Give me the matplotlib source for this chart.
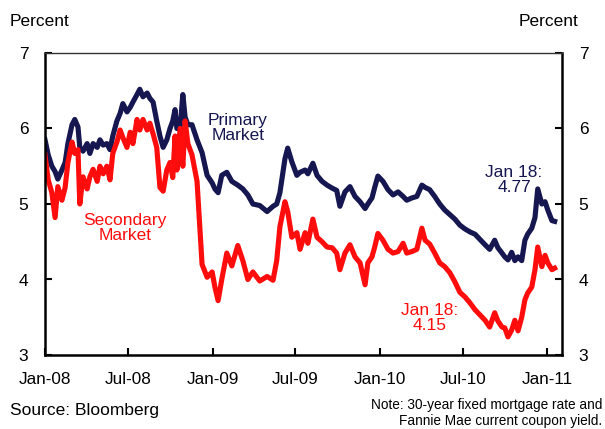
import matplotlib
matplotlib.use("Agg")
import matplotlib.pyplot as plt
import pandas as pd

plt.rcParams['font.family'] = ['Liberation Sans', 'DejaVu Sans']

# Day offsets from 2008-01-01 of each sampled observation
days_since_2008 = [0, 7, 15, 22, 28, 37, 44, 50, 59, 65, 72, 76, 83, 92, 98, 105, 114, 120, 127, 135,
                   142, 148, 157, 164, 170, 179, 186, 192, 201, 207, 214, 223, 229, 236, 244, 251, 258, 266, 273, 279,
                   284, 288, 295, 301, 306, 312, 321, 332, 343, 354, 365, 371, 378, 386, 397, 408, 421, 432, 443, 454,
                   469, 485, 498, 506, 513, 524, 530, 539, 550, 557, 568, 574, 585, 594, 605, 616, 627, 637, 644, 655,
                   666, 677, 688, 699, 705, 714, 720, 727, 738, 749, 760, 771, 782, 790, 801, 812, 823, 830, 840, 851,
                   862, 873, 884, 895, 906, 917, 928, 939, 950, 961, 971, 982, 989, 998, 1004, 1011, 1019, 1026, 1033, 1041,
                   1048, 1054, 1063, 1070, 1076, 1085, 1092, 1098, 1107, 1113]

primary_market = [5.85, 5.65, 5.50, 5.43, 5.33, 5.45, 5.55, 5.80, 6.05, 6.12, 6.02, 5.75, 5.70, 5.80, 5.67, 5.80, 5.75, 5.85, 5.78, 5.80,
                  5.72, 5.90, 6.10, 6.20, 6.33, 6.22, 6.28, 6.35, 6.45, 6.52, 6.42, 6.47, 6.40, 6.35, 6.10, 5.90, 5.75, 5.85, 6.00, 6.10,
                  6.25, 6.00, 6.00, 6.45, 6.15, 6.05, 6.05, 5.85, 5.68, 5.38, 5.28, 5.20, 5.15, 5.38, 5.42, 5.30, 5.25, 5.20, 5.12, 5.00,
                  4.98, 4.90, 4.97, 5.00, 5.15, 5.60, 5.74, 5.56, 5.38, 5.42, 5.45, 5.40, 5.54, 5.38, 5.30, 5.25, 5.21, 5.18, 4.97, 5.16,
                  5.23, 5.10, 5.03, 4.94, 5.00, 5.08, 5.22, 5.37, 5.30, 5.19, 5.12, 5.16, 5.10, 5.05, 5.08, 5.10, 5.25, 5.22, 5.19, 5.10,
                  5.00, 4.92, 4.86, 4.80, 4.72, 4.67, 4.63, 4.60, 4.53, 4.46, 4.40, 4.52, 4.42, 4.35, 4.30, 4.26, 4.36, 4.25, 4.30, 4.25,
                  4.52, 4.60, 4.68, 4.82, 5.20, 5.00, 5.03, 4.92, 4.78, 4.77]

secondary_market = [5.65, 5.32, 5.15, 4.82, 5.23, 5.05, 5.22, 5.55, 5.82, 5.67, 5.72, 5.00, 5.36, 5.20, 5.36, 5.46, 5.30, 5.50, 5.40, 5.50,
                    5.32, 5.67, 5.82, 5.98, 5.88, 5.75, 5.95, 5.80, 6.12, 5.98, 6.12, 5.98, 6.07, 5.93, 5.75, 5.22, 5.17, 5.45, 5.55, 5.35,
                    5.90, 5.45, 6.00, 5.50, 6.10, 5.80, 5.65, 5.30, 4.20, 4.03, 4.10, 3.90, 3.72, 4.00, 4.35, 4.18, 4.45, 4.25, 4.00, 4.10,
                    3.98, 4.04, 3.99, 4.25, 4.70, 5.03, 4.90, 4.56, 4.62, 4.40, 4.62, 4.48, 4.80, 4.56, 4.50, 4.43, 4.42, 4.35, 4.13, 4.35,
                    4.46, 4.30, 4.22, 3.93, 4.22, 4.30, 4.43, 4.61, 4.52, 4.40, 4.35, 4.37, 4.48, 4.35, 4.37, 4.40, 4.68, 4.52, 4.47, 4.35,
                    4.22, 4.17, 4.09, 3.97, 3.83, 3.77, 3.69, 3.60, 3.53, 3.46, 3.37, 3.56, 3.45, 3.37, 3.36, 3.24, 3.33, 3.46, 3.32, 3.50,
                    3.73, 3.82, 3.90, 4.13, 4.43, 4.17, 4.32, 4.22, 4.13, 4.15]

x_tick_dates = ['2008-01-01', '2008-07-01', '2009-01-01', '2009-07-01', '2010-01-01', '2010-07-01', '2011-01-01']
x_tick_labels = ['Jan-08', 'Jul-08', 'Jan-09', 'Jul-09', 'Jan-10', 'Jul-10', 'Jan-11']
y_ticks = [3, 4, 5, 6, 7]

dates = pd.Timestamp('2008-01-01') + pd.to_timedelta(days_since_2008, unit='D')

NAVY = '#161650'
RED = '#ff0d0d'

W, H = 605, 429
fig = plt.figure(figsize=(W / 100, H / 100), dpi=100)
ax = fig.add_axes([45 / W, 1 - 355 / H, (562 - 45) / W, (355 - 53) / H])

ax.plot(dates, primary_market, color=NAVY, lw=3.7, solid_joinstyle='round')
ax.plot(dates, secondary_market, color=RED, lw=3.7, solid_joinstyle='round')

ax.set_xlim(pd.Timestamp('2008-01-01'), pd.Timestamp('2011-02-03'))
ax.set_ylim(3, 7)
ax.set_xticks(pd.to_datetime(x_tick_dates))
ax.set_xticklabels(x_tick_labels)
ax.set_yticks(y_ticks)

ax.tick_params(axis='x', direction='in', length=5, width=1.5, pad=12, labelsize=12.3, colors='black')
ax.tick_params(axis='y', direction='in', length=5, width=1.5, pad=12, labelsize=12.5,
               left=True, right=True, labelleft=True, labelright=True)
for side in ['left', 'bottom', 'right']:
    ax.spines[side].set_linewidth(1.8)
ax.spines['top'].set_linewidth(1.0)
ax.spines['top'].set_color('#333333')

def ftxt(x, y, s, **kw):
    fig.text(x / W, 1 - y / H, s, **kw)

ftxt(10, 22, 'Percent', fontsize=12.5, va='center', ha='left')
ftxt(578, 22, 'Percent', fontsize=12.5, va='center', ha='right')

ftxt(238, 128, 'Primary\nMarket', fontsize=12.5, color=NAVY, ha='center', va='center', linespacing=1.05)
ftxt(125, 228, 'Secondary\nMarket', fontsize=12.5, color=RED, ha='center', va='center', linespacing=1.05)
ftxt(514, 180, 'Jan 18:\n4.77', fontsize=12.5, color=NAVY, ha='center', va='center', linespacing=1.05)
ftxt(430, 318, 'Jan 18:\n4.15', fontsize=12.5, color=RED, ha='center', va='center', linespacing=1.05)

ftxt(10, 411, 'Source: Bloomberg', fontsize=12.5, ha='left', va='center')
ftxt(602, 413, 'Note: 30-year fixed mortgage rate and\nFannie Mae current coupon yield.',
     fontsize=9.8, ha='right', va='center', multialignment='right', linespacing=1.15)

fig.savefig('out.png', dpi=100)
